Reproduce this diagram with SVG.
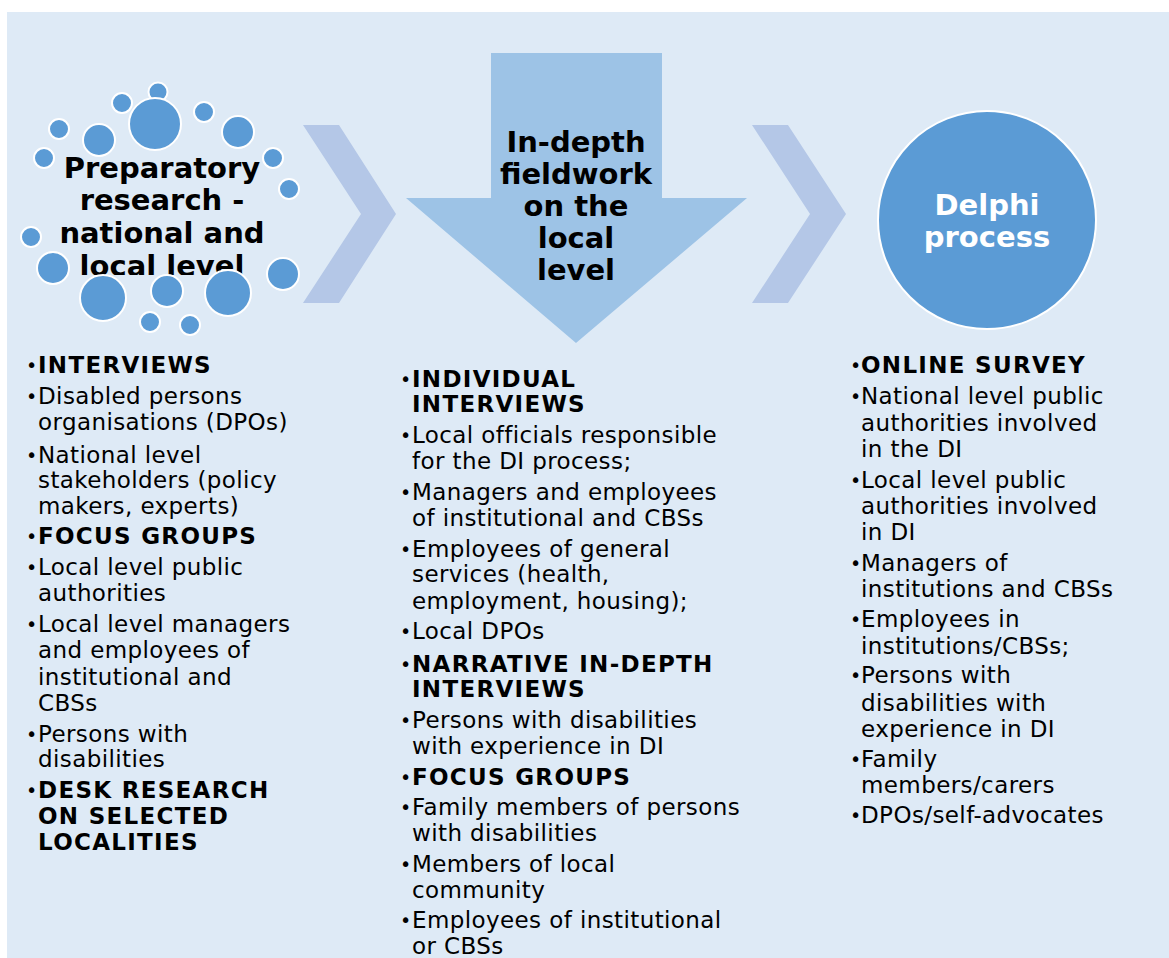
<svg xmlns="http://www.w3.org/2000/svg" width="1169" height="958" viewBox="0 0 1169 958">
<defs>
<style>
.bg{fill:#deeaf6}
.dot{fill:#5b9bd5;stroke:#ffffff;stroke-width:2}
.chev{fill:#b4c7e7}
.title{font-family:"DejaVu Sans",Verdana,sans-serif;font-weight:bold;font-size:29px;fill:#000000;text-anchor:middle}
.wt{fill:#ffffff}
.t{font-family:"DejaVu Sans",Verdana,sans-serif;font-size:23px;fill:#000000;letter-spacing:0.4px}
.b{font-weight:bold;letter-spacing:1.3px}
.u{font-size:19px;letter-spacing:0}
</style>
<clipPath id="clipPrep"><rect x="0" y="140" width="330" height="135"/></clipPath>
</defs>
<rect class="bg" x="7" y="12" width="1162" height="946"/>

<g id="connectors">
<polygon class="chev" points="303,125 339,125 396,214 339,303 303,303 361,214"/>
<polygon class="chev" points="752,125 788,125 846,214 788,303 752,303 810,214"/>
</g>

<g id="node-preparatory">
<text class="title" clip-path="url(#clipPrep)"><tspan x="162" y="178">Preparatory</tspan><tspan x="162" y="210">research -</tspan><tspan x="162" y="243">national and</tspan><tspan x="162" y="276">local level</tspan></text>
<circle class="dot" cx="158" cy="92" r="9.5"/>
<circle class="dot" cx="122" cy="103" r="10"/>
<circle class="dot" cx="155" cy="124" r="26"/>
<circle class="dot" cx="204" cy="112" r="10"/>
<circle class="dot" cx="238" cy="132" r="16"/>
<circle class="dot" cx="59" cy="129" r="10"/>
<circle class="dot" cx="99" cy="140" r="16"/>
<circle class="dot" cx="44" cy="158" r="10"/>
<circle class="dot" cx="273" cy="158" r="10"/>
<circle class="dot" cx="289" cy="189" r="10"/>
<circle class="dot" cx="31" cy="237" r="10"/>
<circle class="dot" cx="53" cy="268" r="16"/>
<circle class="dot" cx="283" cy="274" r="16"/>
<circle class="dot" cx="103" cy="298" r="23"/>
<circle class="dot" cx="167" cy="291" r="16"/>
<circle class="dot" cx="228" cy="293" r="23"/>
<circle class="dot" cx="150" cy="322" r="10"/>
<circle class="dot" cx="190" cy="325" r="10"/>
</g>

<g id="node-fieldwork">
<polygon fill="#9dc3e6" points="491,53 662,53 662,198 747,198 576,343 406,198 491,198"/>
<text class="title"><tspan x="576" y="152">In-depth</tspan><tspan x="576" y="184">fieldwork</tspan><tspan x="576" y="216">on the</tspan><tspan x="576" y="248">local</tspan><tspan x="576" y="280">level</tspan></text>
</g>

<g id="node-delphi">
<circle class="dot" cx="987" cy="220" r="109" stroke-width="2.5"/>
<text class="title wt"><tspan x="987" y="215">Delphi</tspan><tspan x="987" y="247">process</tspan></text>
</g>

<g id="list-left" class="t">
<text class="u" x="26" y="372">•</text><text class="b" x="38" y="373">INTERVIEWS</text>
<text class="u" x="26" y="403">•</text><text x="38" y="404">Disabled persons</text>
<text x="38" y="430">organisations (DPOs)</text>
<text class="u" x="26" y="462">•</text><text x="38" y="463">National level</text>
<text x="38" y="488">stakeholders (policy</text>
<text x="38" y="514">makers, experts)</text>
<text class="u" x="26" y="543">•</text><text class="b" x="38" y="544">FOCUS GROUPS</text>
<text class="u" x="26" y="574">•</text><text x="38" y="575">Local level public</text>
<text x="38" y="601">authorities</text>
<text class="u" x="26" y="631">•</text><text x="38" y="632">Local level managers</text>
<text x="38" y="658">and employees of</text>
<text x="38" y="685">institutional and</text>
<text x="38" y="711">CBSs</text>
<text class="u" x="26" y="741">•</text><text x="38" y="742">Persons with</text>
<text x="38" y="767">disabilities</text>
<text class="u" x="26" y="797">•</text><text class="b" x="38" y="798">DESK RESEARCH</text>
<text class="b" x="38" y="824">ON SELECTED</text>
<text class="b" x="38" y="850">LOCALITIES</text>
</g>

<g id="list-middle" class="t">
<text class="u" x="400" y="386">•</text><text class="b" x="412" y="387">INDIVIDUAL</text>
<text class="b" x="412" y="412">INTERVIEWS</text>
<text class="u" x="400" y="442">•</text><text x="412" y="443">Local officials responsible</text>
<text x="412" y="469">for the DI process;</text>
<text class="u" x="400" y="499">•</text><text x="412" y="500">Managers and employees</text>
<text x="412" y="526">of institutional and CBSs</text>
<text class="u" x="400" y="556">•</text><text x="412" y="557">Employees of general</text>
<text x="412" y="582">services (health,</text>
<text x="412" y="609">employment, housing);</text>
<text class="u" x="400" y="638">•</text><text x="412" y="639">Local DPOs</text>
<text class="u" x="400" y="671">•</text><text class="b" x="412" y="672">NARRATIVE IN-DEPTH</text>
<text class="b" x="412" y="697">INTERVIEWS</text>
<text class="u" x="400" y="727">•</text><text x="412" y="728">Persons with disabilities</text>
<text x="412" y="754">with experience in DI</text>
<text class="u" x="400" y="784">•</text><text class="b" x="412" y="785">FOCUS GROUPS</text>
<text class="u" x="400" y="814">•</text><text x="412" y="815">Family members of persons</text>
<text x="412" y="841">with disabilities</text>
<text class="u" x="400" y="871">•</text><text x="412" y="872">Members of local</text>
<text x="412" y="898">community</text>
<text class="u" x="400" y="927">•</text><text x="412" y="928">Employees of institutional</text>
<text x="412" y="954">or CBSs</text>
</g>

<g id="list-right" class="t">
<text class="u" x="850" y="372">•</text><text class="b" x="861" y="373">ONLINE SURVEY</text>
<text class="u" x="850" y="403">•</text><text x="861" y="404">National level public</text>
<text x="861" y="431">authorities involved</text>
<text x="861" y="457">in the DI</text>
<text class="u" x="850" y="487">•</text><text x="861" y="488">Local level public</text>
<text x="861" y="514">authorities involved</text>
<text x="861" y="540">in DI</text>
<text class="u" x="850" y="570">•</text><text x="861" y="571">Managers of</text>
<text x="861" y="597">institutions and CBSs</text>
<text class="u" x="850" y="626">•</text><text x="861" y="627">Employees in</text>
<text x="861" y="654">institutions/CBSs;</text>
<text class="u" x="850" y="682">•</text><text x="861" y="683">Persons with</text>
<text x="861" y="711">disabilities with</text>
<text x="861" y="737">experience in DI</text>
<text class="u" x="850" y="766">•</text><text x="861" y="767">Family</text>
<text x="861" y="793">members/carers</text>
<text class="u" x="850" y="822">•</text><text x="861" y="823">DPOs/self-advocates</text>
</g>
</svg>
